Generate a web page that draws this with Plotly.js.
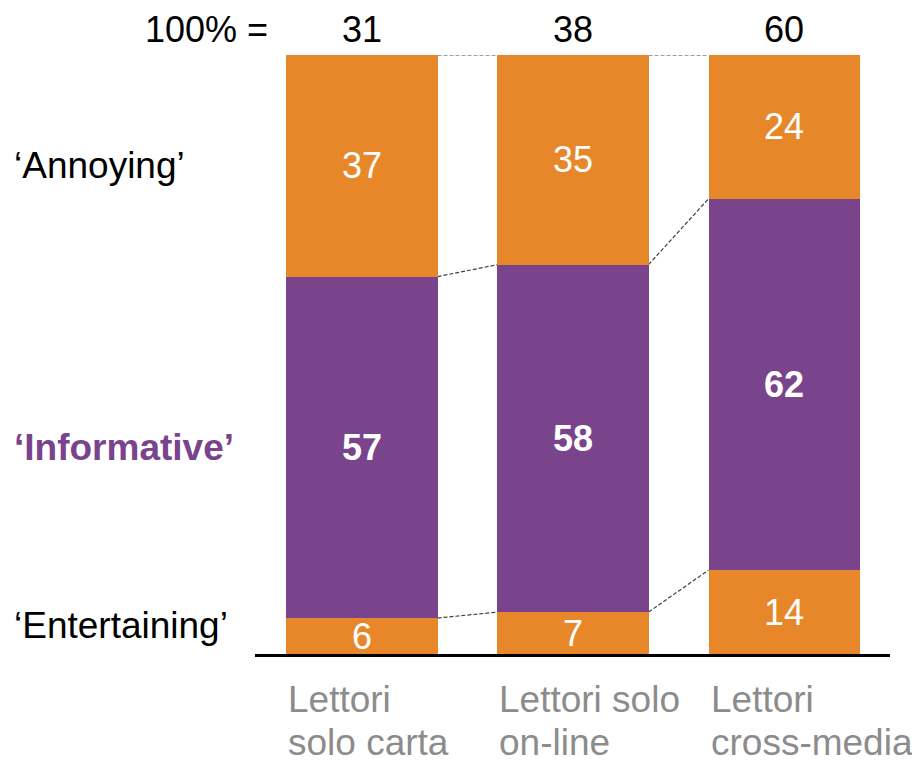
<!DOCTYPE html>
<html>
<head>
<meta charset="utf-8">
<script src="https://cdn.plot.ly/plotly-3.0.1.min.js"></script>
<style>html,body{margin:0;padding:0;background:#fff;}#chart{width:912px;height:762px;}</style>
</head>
<body>
<div id="chart"></div>
<script>
const categories = ["Lettori solo carta", "Lettori solo on-line", "Lettori cross-media"];
const labelLine1 = ["Lettori", "Lettori solo", "Lettori"];
const labelLine2 = ["solo carta", "on-line", "cross-media"];
const totals = [31, 38, 60];
const entertaining = [6, 7, 14];
const informative = [57, 58, 62];
const annoying = [37, 35, 24];
const seriesNames = ["\u2018Entertaining\u2019", "\u2018Informative\u2019", "\u2018Annoying\u2019"];

const ORANGE = "#E8872A";
const PURPLE = "#7A448C";
const GRAY = "#8C8C8C";
const FONT = "Liberation Sans, Arial, sans-serif";
const FS_VAL = 36;
const FS_LEFT = 37;
const FS_TOP = 36;
const FS_CAT = 37;
const W = 0.716;
const xs = categories.map((_, i) => i);

function barTrace(vals, color, bold) {
  return {
    type: "bar", x: xs, y: vals, width: W,
    marker: {color: color, line: {width: 0}},
    text: vals.map(v => bold ? "<b>" + v + "</b>" : String(v)),
    textposition: "inside", insidetextanchor: "middle", constraintext: "none", textangle: 0,
    textfont: {family: FONT, size: FS_VAL, color: "#ffffff"},
    hoverinfo: "skip", showlegend: false
  };
}

const data = [
  barTrace(entertaining, ORANGE, false),
  barTrace(informative, PURPLE, true),
  barTrace(annoying, ORANGE, false)
];

// connector lines between bars at cumulative boundaries
const shapes = [];
const cum = xs.map(i => [entertaining[i], entertaining[i] + informative[i], entertaining[i] + informative[i] + annoying[i]]);
for (let i = 0; i < xs.length - 1; i++) {
  for (let k = 0; k < 3; k++) {
    shapes.push({type: "line", xref: "x", yref: "y",
      x0: xs[i] + W / 2, y0: cum[i][k], x1: xs[i + 1] - W / 2, y1: cum[i + 1][k],
      line: {color: "#404040", width: 1.2, dash: "4px,2px"}, layer: "below"});
  }
}

const annotations = [];
// totals row
annotations.push({xref: "paper", yref: "paper", x: 0.0236, y: 1.042, xanchor: "right", yanchor: "middle",
  text: "100% =", showarrow: false, font: {family: FONT, size: FS_TOP, color: "#000"}});
xs.forEach(i => annotations.push({xref: "x", yref: "paper", x: i, y: 1.042, xanchor: "center", yanchor: "middle",
  text: String(totals[i]), showarrow: false, font: {family: FONT, size: FS_TOP, color: "#000"}}));
// series labels on the left
const leftX = (12 - 255) / 635;
annotations.push({xref: "paper", yref: "y", x: leftX, y: entertaining[0] + informative[0] + annoying[0] / 2, xanchor: "left", yanchor: "middle",
  text: seriesNames[2], showarrow: false, font: {family: FONT, size: FS_LEFT, color: "#000"}});
annotations.push({xref: "paper", yref: "y", x: leftX, y: entertaining[0] + informative[0] / 2, xanchor: "left", yanchor: "middle",
  text: "<b>" + seriesNames[1] + "</b>", showarrow: false, font: {family: FONT, size: FS_LEFT, color: PURPLE}});
annotations.push({xref: "paper", yref: "y", x: leftX, y: entertaining[0] * 0.8, xanchor: "left", yanchor: "middle",
  text: seriesNames[0], showarrow: false, font: {family: FONT, size: FS_LEFT, color: "#000"}});
// category labels, left aligned to bars
xs.forEach(i => {
  annotations.push({xref: "x", yref: "paper", x: xs[i] - W / 2, y: -0.076, xanchor: "left", yanchor: "middle",
    text: labelLine1[i], showarrow: false, font: {family: FONT, size: FS_CAT, color: GRAY}});
  annotations.push({xref: "x", yref: "paper", x: xs[i] - W / 2, y: -0.148, xanchor: "left", yanchor: "middle",
    text: labelLine2[i], showarrow: false, font: {family: FONT, size: FS_CAT, color: GRAY}});
});

const layout = {
  width: 912, height: 762,
  margin: {l: 255, r: 22, t: 55, b: 108, pad: 0},
  paper_bgcolor: "#ffffff", plot_bgcolor: "#ffffff",
  barmode: "stack",
  showlegend: false,
  xaxis: {range: [-0.507, 2.502], showgrid: false, zeroline: false, showticklabels: false, ticks: "",
    showline: true, linecolor: "#000000", linewidth: 3, fixedrange: true},
  yaxis: {range: [0, 100], showgrid: false, zeroline: false, showticklabels: false, ticks: "", showline: false, fixedrange: true},
  shapes: shapes,
  annotations: annotations,
  font: {family: FONT}
};

Plotly.newPlot("chart", data, layout, {displayModeBar: false, staticPlot: true});
</script>
</body>
</html>
